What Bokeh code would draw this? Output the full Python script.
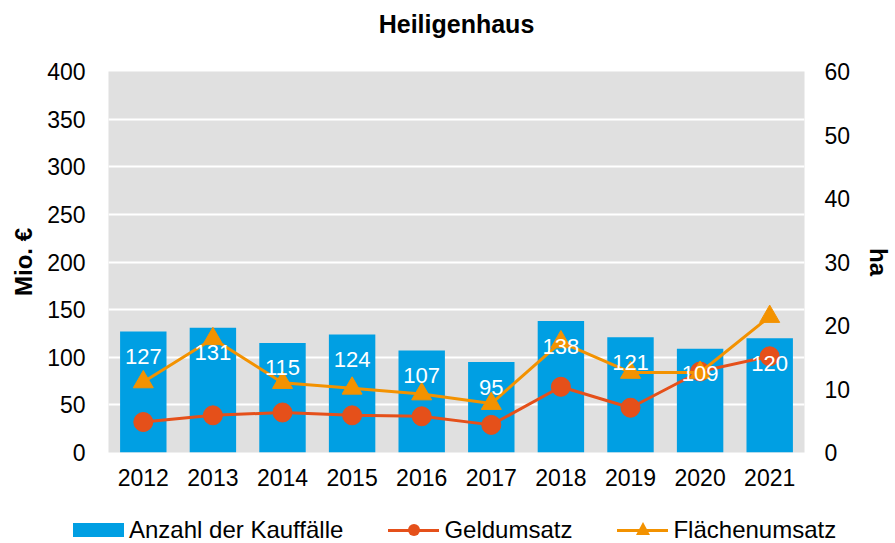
from bokeh.plotting import figure
from bokeh.models import (ColumnDataSource, Range1d, LinearAxis, FactorRange,
                          SingleIntervalTicker, LabelSet, Title, Div)
from bokeh.layouts import column
from bokeh.embed import file_html
from bokeh.resources import INLINE
from bokeh.core.properties import value

years = ["2012", "2013", "2014", "2015", "2016", "2017", "2018", "2019", "2020", "2021"]
kauffaelle = [127, 131, 115, 124, 107, 95, 138, 121, 109, 120]
geldumsatz = [32, 39, 42, 39, 38, 29, 69, 47, 85, 101]
flaechenumsatz = [11.1, 17.9, 11.0, 10.1, 9.2, 7.7, 17.4, 12.6, 12.6, 21.4]
series_names = ["Anzahl der Kauffälle", "Geldumsatz", "Flächenumsatz"]

FONT = "Liberation Sans"
BLUE = "#009fe3"
RED = "#e5501a"
ORANGE = "#f39200"
W = 895

src = ColumnDataSource(dict(x=years, k=kauffaelle, g=geldumsatz, f=flaechenumsatz,
                            lab=[str(v) for v in kauffaelle]))

p = figure(x_range=FactorRange(*years), y_range=Range1d(0, 400),
           width=W, height=500, output_backend="svg", toolbar_location=None,
           title="Heiligenhaus",
           min_border_left=108, min_border_right=W - 808, min_border_top=71, min_border_bottom=48)
p.extra_y_ranges = {"ha": Range1d(0, 60)}
p.x_range.range_padding = 0
p.outline_line_color = None
p.background_fill_color = "#e0e0e0"
p.border_fill_color = "white"
p.xgrid.grid_line_color = None
p.ygrid.grid_line_color = "white"
p.ygrid.grid_line_width = 2
p.yaxis.ticker = SingleIntervalTicker(interval=50)

p.title.align = "center"
p.title.text_font = FONT
p.title.text_font_size = "25px"
p.title.text_font_style = "bold"
p.title.text_color = "black"
# empty spacer title between the frame and the main title (lifts the title up)
p.add_layout(Title(text=" ", text_font_size="24px", standoff=0), "above")

bars = p.vbar(x="x", top="k", width=0.667, source=src, fill_color=BLUE, line_color=None)
labels = LabelSet(x="x", y="k", text="lab", source=src, text_color="white",
                  text_font=value(FONT), text_font_size="22px", text_align="center",
                  text_baseline="middle", y_offset=-25)
p.add_layout(labels)

gl = p.line(x="x", y="g", source=src, line_color=RED, line_width=3)
gs = p.scatter(x="x", y="g", source=src, marker="circle", size=19, fill_color=RED, line_color=RED)
fl = p.line(x="x", y="f", source=src, line_color=ORANGE, line_width=3, y_range_name="ha")
fs = p.scatter(x="x", y="f", source=src, marker="triangle", size=20, fill_color=ORANGE,
               line_color=ORANGE, y_range_name="ha")

ax2 = LinearAxis(y_range_name="ha", ticker=SingleIntervalTicker(interval=10), axis_label="ha")
p.add_layout(ax2, "right")

for ax in [p.xaxis[0], p.yaxis[0], ax2]:
    ax.axis_line_color = None
    ax.major_tick_line_color = None
    ax.minor_tick_line_color = None
    ax.major_tick_out = 0
    ax.minor_tick_out = 0
    ax.major_label_text_font = FONT
    ax.major_label_text_font_size = "23px"
    ax.major_label_text_color = "black"
    ax.axis_label_text_font = FONT
    ax.axis_label_text_font_size = "24px"
    ax.axis_label_text_font_style = "bold"
    ax.axis_label_text_color = "black"
p.yaxis[0].axis_label = "Mio. €"
p.xaxis.major_label_standoff = 16
p.yaxis[0].major_label_standoff = 23
p.yaxis[0].axis_label_standoff = 7
ax2.major_label_standoff = 20
ax2.axis_label_standoff = 12

# legend strip below the chart (HTML legend with real text)
sw_bar = (f'<span style="display:inline-block;width:51px;height:14px;'
          f'background:{BLUE};margin-right:5px;"></span>')


def sw_line(color, marker):
    return (f'<span style="position:relative;display:inline-block;width:51px;height:22px;'
            f'margin-right:5px;"><span style="position:absolute;left:0;top:9.5px;width:51px;'
            f'height:3px;background:{color};"></span>{marker}</span>')


circle = (f'<span style="position:absolute;left:19.5px;top:5px;width:12px;height:12px;'
          f'border-radius:50%;background:{RED};"></span>')
tri = (f'<span style="position:absolute;left:18.5px;top:3px;width:0;height:0;'
       f'border-left:7px solid transparent;border-right:7px solid transparent;'
       f'border-bottom:13px solid {ORANGE};"></span>')
swatches = [sw_bar, sw_line(RED, circle), sw_line(ORANGE, tri)]

items = []
for i, (sw, name) in enumerate(zip(swatches, series_names)):
    mr = 0 if i == len(series_names) - 1 else 45
    items.append(f'<span style="display:inline-flex;align-items:center;margin-right:{mr}px;">'
                 f'{sw}<span>{name}</span></span>')
html = (f'<div style="display:flex;align-items:center;box-sizing:content-box;padding-left:73px;'
        f'padding-top:19px;height:22px;line-height:22px;font-family:\'{FONT}\';font-size:24px;'
        f'color:black;white-space:nowrap;">' + "".join(items) + '</div>')
legend_div = Div(text=html, width=W, height=43, margin=0)

layout = column(p, legend_div, spacing=0)
open("out.html", "w").write(file_html(layout, INLINE))
